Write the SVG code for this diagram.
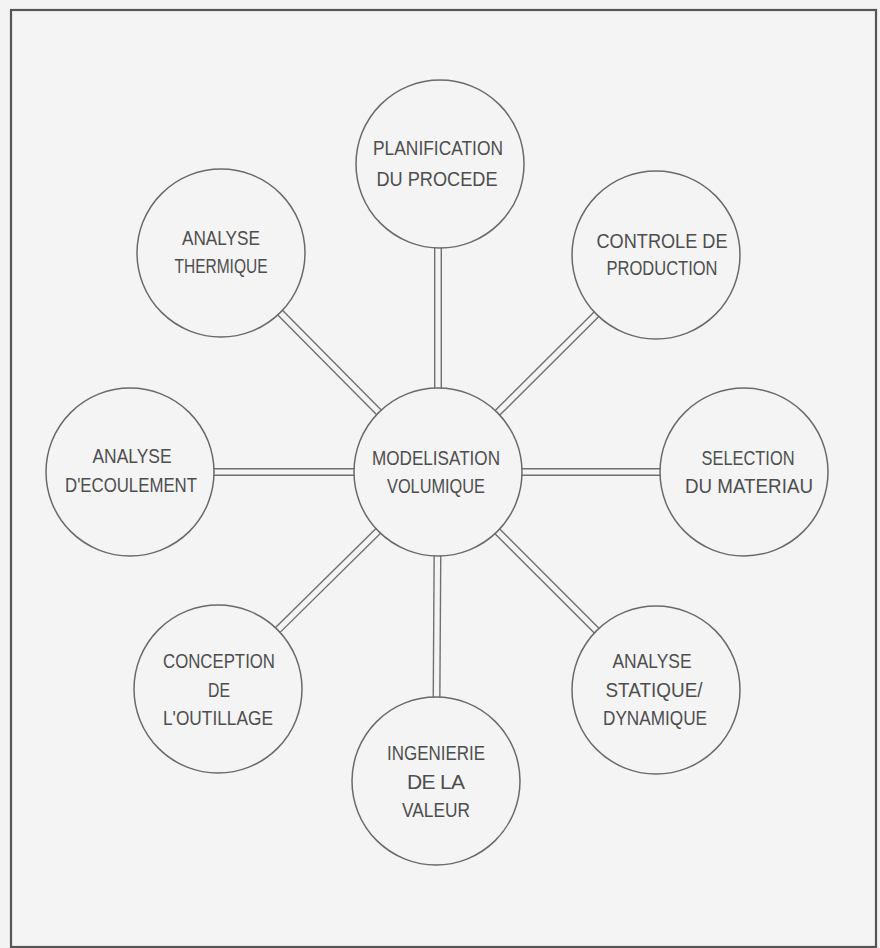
<svg xmlns="http://www.w3.org/2000/svg" width="880" height="948" viewBox="0 0 880 948">
<style>
.bg{fill:#f3f3f3}
.frame{fill:#f4f4f4;stroke:#555;stroke-width:2.2}
.node circle{fill:#f4f4f4;stroke:#6a6a6a;stroke-width:1.5}
.node text{font-family:"Liberation Sans",Arial,sans-serif;font-size:21px;fill:#4e4e4e;text-anchor:middle}
.outer{stroke:#707070;stroke-width:8}
.inner{stroke:#f4f4f4;stroke-width:5.2}
</style>
<rect class="bg" x="0" y="0" width="880" height="948"/>
<rect class="frame" x="11" y="10" width="865" height="937"/>
<g id="connectors">
<line class="outer" x1="438" y1="472" x2="438" y2="164"/>
<line class="outer" x1="438" y1="472" x2="221" y2="253"/>
<line class="outer" x1="438" y1="472" x2="656" y2="255"/>
<line class="outer" x1="438" y1="472" x2="130" y2="472"/>
<line class="outer" x1="438" y1="472" x2="744" y2="472"/>
<line class="outer" x1="438" y1="472" x2="218" y2="689"/>
<line class="outer" x1="438" y1="472" x2="656" y2="690"/>
<line class="outer" x1="438" y1="472" x2="436" y2="781"/>
<line class="inner" x1="438" y1="472" x2="438" y2="164"/>
<line class="inner" x1="438" y1="472" x2="221" y2="253"/>
<line class="inner" x1="438" y1="472" x2="656" y2="255"/>
<line class="inner" x1="438" y1="472" x2="130" y2="472"/>
<line class="inner" x1="438" y1="472" x2="744" y2="472"/>
<line class="inner" x1="438" y1="472" x2="218" y2="689"/>
<line class="inner" x1="438" y1="472" x2="656" y2="690"/>
<line class="inner" x1="438" y1="472" x2="436" y2="781"/>
</g>
<g id="center" class="node">
<circle cx="438" cy="472" r="84"/>
<text x="436" y="465" textLength="128" lengthAdjust="spacingAndGlyphs">MODELISATION</text>
<text x="436" y="493" textLength="98" lengthAdjust="spacingAndGlyphs">VOLUMIQUE</text>
</g>
<g id="planification" class="node">
<circle cx="440" cy="164" r="84"/>
<text x="438" y="155" textLength="130" lengthAdjust="spacingAndGlyphs">PLANIFICATION</text>
<text x="437" y="186" textLength="121" lengthAdjust="spacingAndGlyphs">DU PROCEDE</text>
</g>
<g id="thermique" class="node">
<circle cx="221" cy="253" r="84"/>
<text x="221" y="245" textLength="78" lengthAdjust="spacingAndGlyphs">ANALYSE</text>
<text x="221" y="273" textLength="93" lengthAdjust="spacingAndGlyphs">THERMIQUE</text>
</g>
<g id="controle" class="node">
<circle cx="656" cy="255" r="84"/>
<text x="662" y="248" textLength="131" lengthAdjust="spacingAndGlyphs">CONTROLE DE</text>
<text x="662" y="275" textLength="111" lengthAdjust="spacingAndGlyphs">PRODUCTION</text>
</g>
<g id="ecoulement" class="node">
<circle cx="130" cy="472" r="84"/>
<text x="132" y="463" textLength="79" lengthAdjust="spacingAndGlyphs">ANALYSE</text>
<text x="131" y="492" textLength="132" lengthAdjust="spacingAndGlyphs">D'ECOULEMENT</text>
</g>
<g id="selection" class="node">
<circle cx="744" cy="472" r="84"/>
<text x="748" y="465" textLength="93" lengthAdjust="spacingAndGlyphs">SELECTION</text>
<text x="749" y="493" textLength="128" lengthAdjust="spacingAndGlyphs">DU MATERIAU</text>
</g>
<g id="conception" class="node">
<circle cx="218" cy="689" r="84"/>
<text x="219" y="668" textLength="112" lengthAdjust="spacingAndGlyphs">CONCEPTION</text>
<text x="219" y="697" textLength="22" lengthAdjust="spacingAndGlyphs">DE</text>
<text x="218" y="725" textLength="110" lengthAdjust="spacingAndGlyphs">L'OUTILLAGE</text>
</g>
<g id="statique" class="node">
<circle cx="656" cy="690" r="84"/>
<text x="652" y="668" textLength="79" lengthAdjust="spacingAndGlyphs">ANALYSE</text>
<text x="654" y="697" textLength="97" lengthAdjust="spacingAndGlyphs">STATIQUE/</text>
<text x="655" y="725" textLength="104" lengthAdjust="spacingAndGlyphs">DYNAMIQUE</text>
</g>
<g id="ingenierie" class="node">
<circle cx="436" cy="781" r="84"/>
<text x="436" y="760" textLength="98" lengthAdjust="spacingAndGlyphs">INGENIERIE</text>
<text x="436" y="789" textLength="58" lengthAdjust="spacing">DE LA</text>
<text x="436" y="817" textLength="68" lengthAdjust="spacingAndGlyphs">VALEUR</text>
</g>
</svg>
